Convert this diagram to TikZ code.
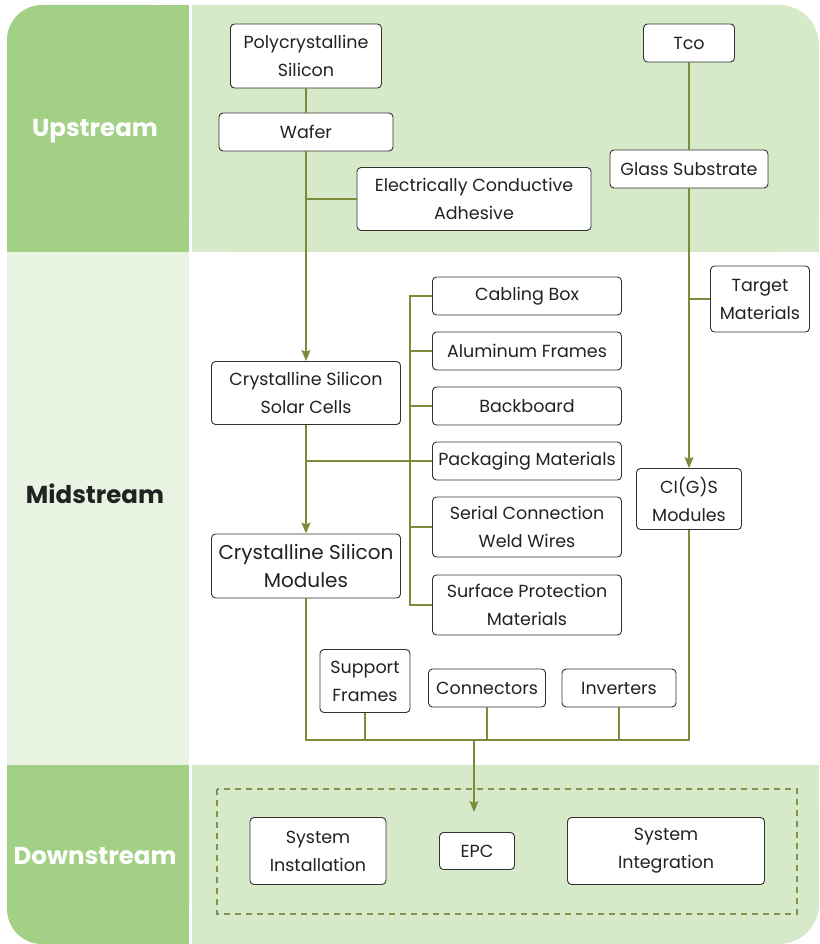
\documentclass[tikz,border=0pt]{standalone}
\usepackage{fontspec}
\setmainfont{Poppins}
\usetikzlibrary{arrows.meta}
\definecolor{dg}{RGB}{162,208,132}
\definecolor{lg}{RGB}{214,233,201}
\definecolor{ml}{RGB}{232,243,225}
\definecolor{olive}{RGB}{122,140,58}
\definecolor{dashc}{RGB}{130,145,75}
\definecolor{boxline}{RGB}{50,50,50}
\definecolor{txt}{RGB}{34,34,34}
\tikzset{
  box/.style={draw=boxline, fill=white, rounded corners=4pt, line width=0.9pt,
    inner sep=0pt, align=center, text=txt,
    font=\fontsize{17.5pt}{28pt}\selectfont},
  ln/.style={draw=olive, line width=1.4pt},
  arr/.style={ln, -{Stealth[length=11pt,width=9pt,inset=2pt]}},
  title/.style={font=\fontsize{24.5pt}{28pt}\selectfont\bfseries}
}
\begin{document}
\begin{tikzpicture}[x=1pt,y=-1pt]
\useasboundingbox (0,0) rectangle (819,944);
% backgrounds
\fill[dg, rounded corners=35pt] (7,5) rectangle (189,252);
\fill[dg] (100,5) rectangle (189,252);
\fill[dg] (7,100) rectangle (189,252);
\fill[lg, rounded corners=40pt] (192,5) rectangle (819,252);
\fill[lg] (192,5) rectangle (700,252);
\fill[lg] (192,100) rectangle (819,252);
\fill[ml] (7,252) rectangle (189,765);
\fill[dg, rounded corners=35pt] (7,765) rectangle (189,944);
\fill[dg] (100,765) rectangle (189,944);
\fill[dg] (7,765) rectangle (189,860);
\fill[lg, rounded corners=40pt] (192,765) rectangle (819,944);
\fill[lg] (192,765) rectangle (700,944);
\fill[lg] (192,765) rectangle (819,860);
% titles
\node[title, text=white] (tup) at (95,131) {Upstream};
\node[title, text=txt] (tmid) at (95,494) {Midstream};
\node[title, text=white] (tdown) at (95,856) {Downstream};
% dashed group
\draw[dashc, line width=1.2pt, dash pattern=on 6pt off 5pt] (217,789) rectangle (797,914);
% nodes
\node[box, minimum width=151pt, minimum height=64pt] (poly) at (306,56) {Polycrystalline\\Silicon};
\node[box, minimum width=174pt, minimum height=38pt] (wafer) at (306,132) {Wafer};
\node[box, minimum width=234pt, minimum height=63pt] (eca) at (474,199) {Electrically Conductive\\Adhesive};
\node[box, minimum width=91pt, minimum height=38pt] (tco) at (689,43) {Tco};
\node[box, minimum width=158pt, minimum height=38pt] (glass) at (689,169) {Glass Substrate};
\node[box, minimum width=99pt, minimum height=66pt] (target) at (760,299) {Target\\Materials};
\node[box, minimum width=189pt, minimum height=38pt] (cab) at (527,296) {Cabling Box};
\node[box, minimum width=189pt, minimum height=38pt] (alu) at (527,351) {Aluminum Frames};
\node[box, minimum width=189pt, minimum height=38pt] (back) at (527,406) {Backboard};
\node[box, minimum width=189pt, minimum height=38pt] (pack) at (527,461) {Packaging Materials};
\node[box, minimum width=189pt, minimum height=60pt] (weld) at (527,527) {Serial Connection\\Weld Wires};
\node[box, minimum width=189pt, minimum height=60pt] (surf) at (527,605) {Surface Protection\\Materials};
\node[box, minimum width=189pt, minimum height=63pt] (cells) at (306,393) {Crystalline Silicon\\Solar Cells};
\node[box, minimum width=189pt, minimum height=64pt, font=\fontsize{20pt}{28pt}\selectfont] (mods) at (306,566) {Crystalline Silicon\\Modules};
\node[box, minimum width=105pt, minimum height=61pt] (cigs) at (689,499) {CI(G)S\\Modules};
\node[box, minimum width=90pt, minimum height=63pt] (sup) at (365,681) {Support\\Frames};
\node[box, minimum width=117pt, minimum height=38pt] (con) at (487,688) {Connectors};
\node[box, minimum width=114pt, minimum height=38pt] (inv) at (619,688) {Inverters};
\node[box, minimum width=136pt, minimum height=67pt] (inst) at (318,851) {System\\Installation};
\node[box, minimum width=75pt, minimum height=37pt] (epc) at (477,851) {EPC};
\node[box, minimum width=197pt, minimum height=67pt] (integ) at (666,851) {System\\Integration};
% coordinates
\coordinate (bt) at (410,296);
\coordinate (bb) at (410,605);
\coordinate (bl) at (306,740);
\coordinate (br) at (689,740);
\coordinate (mid) at (474,740);
\coordinate (tip) at (474,812);
% connectors
\draw[ln] (poly) -- (wafer);
\draw[arr] (wafer) -- (cells);
\draw[ln] (eca.west -| wafer.south) -- (eca.west);
\draw[ln] (tco) -- (glass);
\draw[arr] (glass) -- (cigs);
\draw[ln] (target.west -| glass.south) -- (target.west);
\draw[arr] (cells) -- (mods);
\draw[ln] (pack.west -| cells.south) -- (pack.west);
\draw[ln] (cab.west) -- (bt) -- (bb) -- (surf.west);
\draw[ln] (alu.west -| bt) -- (alu.west);
\draw[ln] (back.west -| bt) -- (back.west);
\draw[ln] (weld.west -| bt) -- (weld.west);
\draw[ln] (mods) -- (bl) -- (br) -- (cigs);
\draw[ln] (sup) -- (sup |- bl);
\draw[ln] (con) -- (con |- bl);
\draw[ln] (inv) -- (inv |- bl);
\draw[arr] (mid) -- (tip);
\end{tikzpicture}
\end{document}
